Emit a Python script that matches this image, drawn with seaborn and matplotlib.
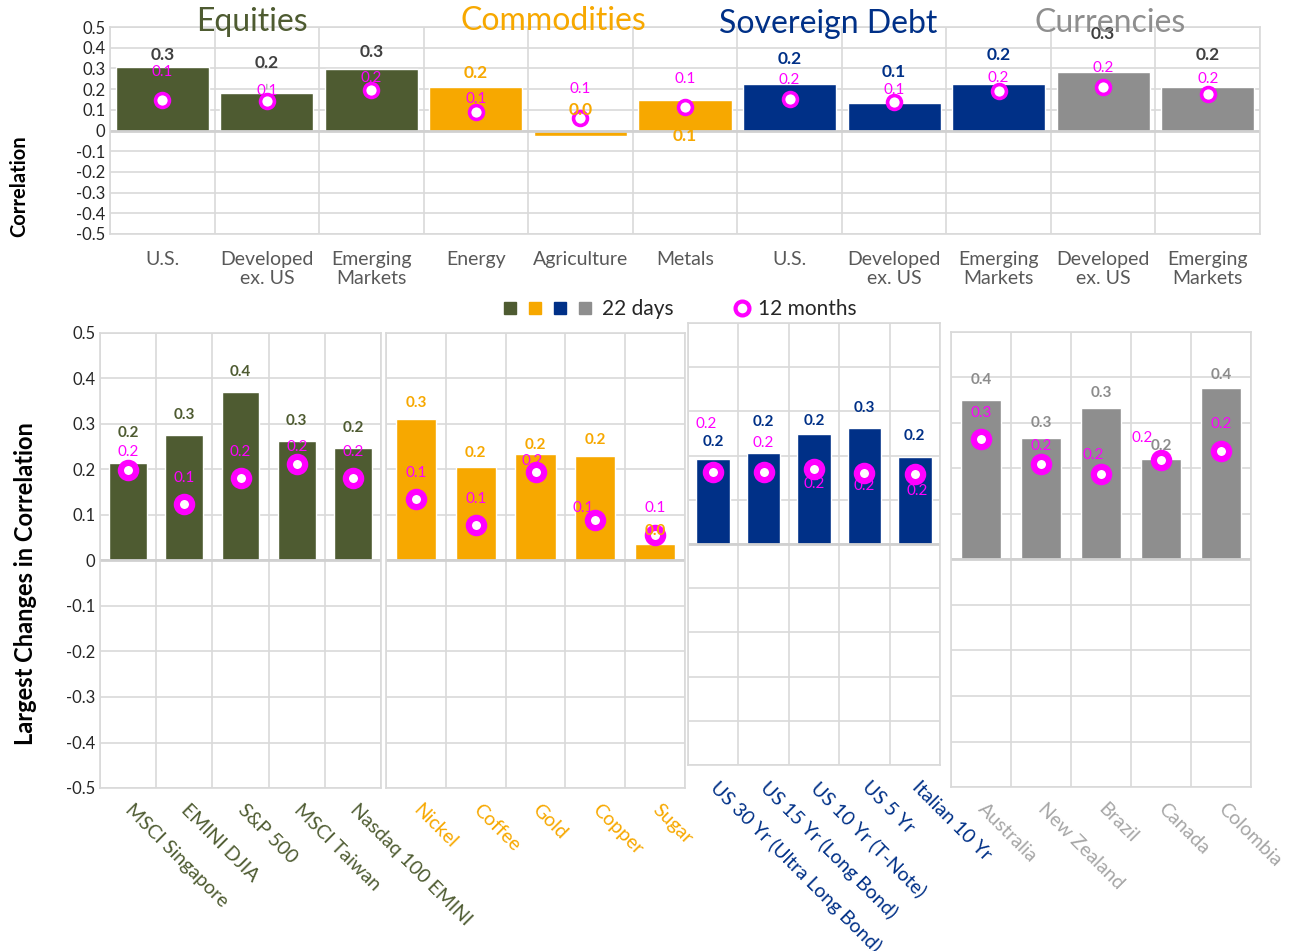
import numpy as np
import pandas as pd
import matplotlib.pyplot as plt
import seaborn as sns
from matplotlib.lines import Line2D
from matplotlib.legend_handler import HandlerTuple

# colours
OLIVE = '#4E5B31'
ORANGE = '#F7A800'
NAVY = '#003087'
GREY = '#8E8E8E'
MAGENTA = '#FF00FF'
GRID = '#D9D9D9'

# top chart data
top_groups = ['Equities'] * 3 + ['Commodities'] * 3 + ['Sovereign Debt'] * 3 + ['Currencies'] * 2
top_labels = ['U.S.', 'Developed\nex. US', 'Emerging\nMarkets', 'Energy', 'Agriculture', 'Metals',
              'U.S.', 'Developed\nex. US', 'Emerging\nMarkets', 'Developed\nex. US', 'Emerging\nMarkets']
top_22d = [0.307, 0.180, 0.295, 0.209, -0.025, 0.146, 0.224, 0.132, 0.224, 0.282, 0.209]
top_12m = [0.146, 0.141, 0.198, 0.090, 0.061, 0.113, 0.153, 0.137, 0.190, 0.209, 0.175]

# bottom panels data
eq_names = ['MSCI Singapore', 'EMINI DJIA', 'S&P 500', 'MSCI Taiwan', 'Nasdaq 100 EMINI']
eq_22d = [0.214, 0.275, 0.371, 0.263, 0.248]
eq_12m = [0.199, 0.125, 0.182, 0.212, 0.182]

com_names = ['Nickel', 'Coffee', 'Gold', 'Copper', 'Sugar']
com_22d = [0.312, 0.205, 0.234, 0.229, 0.037]
com_12m = [0.135, 0.079, 0.194, 0.088, 0.057]

sov_names = ['US 30 Yr (Ultra Long Bond)', 'US 15 Yr (Long Bond)', 'US 10 Yr (T-Note)', 'US 5 Yr', 'Italian 10 Yr']
sov_22d = [0.192, 0.205, 0.248, 0.262, 0.197]
sov_12m = [0.162, 0.164, 0.170, 0.161, 0.158]

cur_names = ['Australia', 'New Zealand', 'Brazil', 'Canada', 'Colombia']
cur_22d = [0.351, 0.267, 0.334, 0.221, 0.376]
cur_12m = [0.265, 0.210, 0.187, 0.218, 0.238]

group_colors = {'Equities': OLIVE, 'Commodities': ORANGE, 'Sovereign Debt': NAVY, 'Currencies': GREY}
top_label_colors = {'Equities': '#404040', 'Commodities': ORANGE, 'Sovereign Debt': NAVY, 'Currencies': '#404040'}

# label offsets in pixels (dx, dy) - mimic the Excel label placement
top_bar_off = [(0, 12), (0, 30), (0, 17), (0, 14), (0, 26), (0, -36), (0, 25), (0, 31), (0, 29), (0, 38), (0, 32)]
top_mk_off = [(0, 28), (0, 10), (0, 12), (0, 13), (0, 29), (0, 28), (0, 19), (0, 12), (0, 13), (0, 19), (0, 15)]
eq_bar_off = [(0, 30), (0, 20), (0, 20), (0, 20), (0, 20)]
eq_mk_off = [(0, 18), (0, 26), (0, 26), (0, 17), (0, 26)]
com_bar_off = [(0, 16), (0, 14), (0, 9), (0, 16), (0, 13)]
com_mk_off = [(0, 26), (0, 26), (-3, 11), (-12, 12), (0, 27)]
sov_bar_off = [(0, 17), (0, 31), (0, 13), (0, 20), (0, 21)]
sov_mk_off = [(-7, 48), (0, 29), (0, -15), (0, -13), (2, -17)]
cur_bar_off = [(0, 20), (0, 15), (0, 15), (0, 13), (0, 13)]
cur_mk_off = [(0, 26), (0, 18), (-8, 19), (-19, 22), (0, 27)]

sns.set_style('white')
plt.rcParams['font.family'] = ['Lato', 'DejaVu Sans']

yticks = np.round(np.arange(-0.5, 0.51, 0.1), 1)


def fmt(v):
    s = f'{v:.1f}'
    return '0.0' if s == '-0.0' else s


def style_axes(ax, n, show_y=True):
    ax.set_ylim(-0.5, 0.5)
    ax.set_xlim(-0.5, n - 0.5)
    ax.set_yticks(yticks)
    ax.set_xticks(np.arange(-0.5, n, 1.0), minor=True)
    ax.grid(axis='y', which='major', color=GRID, lw=1.2)
    ax.grid(axis='x', which='minor', color=GRID, lw=1.2)
    ax.grid(axis='x', which='major', visible=False)
    ax.axhline(0, color='#D0D0D0', lw=2, zorder=1)
    ax.set_axisbelow(True)
    for sp in ax.spines.values():
        sp.set_color(GRID)
        sp.set_linewidth(1.2)
    ax.tick_params(length=0, which='both')
    ax.set_xlabel('')
    ax.set_ylabel('')
    if show_y:
        ax.set_yticklabels(['0' if t == 0 else f'{t:g}' for t in yticks], color='#262626', fontsize=12)
    else:
        ax.set_yticklabels([])


def add_labels(ax, v22, v12, bar_off, mk_off, bar_color, size_bar, size_mk):
    for i, (b, m) in enumerate(zip(v22, v12)):
        ax.annotate(fmt(b), (i, b), xytext=bar_off[i], textcoords='offset pixels',
                    ha='center', va='center', fontsize=size_bar, fontweight='bold',
                    color=bar_color, zorder=6)
        ax.annotate(fmt(m), (i, m), xytext=mk_off[i], textcoords='offset pixels',
                    ha='center', va='center', fontsize=size_mk, color=MAGENTA, zorder=6)


W, H = 1290, 951
fig = plt.figure(figsize=(12.9, 9.51), dpi=100)

# ---------------- top chart ----------------
ax_top = fig.add_axes([110 / W, 1 - 234 / H, 1150 / W, 207 / H])
top_df = pd.DataFrame({'key': [g + ' ' + l for g, l in zip(top_groups, top_labels)],
                       'group': top_groups, 'd22': top_22d, 'm12': top_12m})
sns.barplot(data=top_df, x='key', y='d22', hue='group', palette=group_colors, dodge=False,
            width=0.89, saturation=1, legend=False, ax=ax_top)
sns.stripplot(data=top_df, x='key', y='m12', jitter=False, color='white', edgecolor=MAGENTA,
              linewidth=2.6, size=10, zorder=5, ax=ax_top)
style_axes(ax_top, len(top_labels))
ax_top.set_xticks(range(len(top_labels)))
ax_top.set_xticklabels(top_labels, color='#595959', fontsize=14, linespacing=1.15)
ax_top.tick_params(axis='x', pad=12)

for i, (b, m, g) in enumerate(zip(top_22d, top_12m, top_groups)):
    if i == 1:
        ax_top.annotate(fmt(b), (i, b), xytext=top_bar_off[i], textcoords='offset pixels',
                        ha='center', va='center', fontsize=12.5, fontweight='bold',
                        color=top_label_colors[g], zorder=6,
                        arrowprops=dict(arrowstyle='-', color='#A0A0A0', lw=0.8,
                                        shrinkA=7, shrinkB=3))
    else:
        ax_top.annotate(fmt(b), (i, b), xytext=top_bar_off[i], textcoords='offset pixels',
                        ha='center', va='center', fontsize=12.5, fontweight='bold',
                        color=top_label_colors[g], zorder=6)
    ax_top.annotate(fmt(m), (i, m), xytext=top_mk_off[i], textcoords='offset pixels',
                    ha='center', va='center', fontsize=11, color=MAGENTA, zorder=6)

fig.text(19 / W, 1 - 186 / H, 'Correlation', rotation=90, ha='center', va='center',
         fontsize=14.5, fontweight='bold', color='black')

titles = [('Equities', 252, 22, OLIVE), ('Commodities', 553, 21, ORANGE),
          ('Sovereign Debt', 828, 24, NAVY), ('Currencies', 1110, 23, GREY)]
for t, x, y, c in titles:
    fig.text(x / W, 1 - y / H, t, ha='center', va='center', fontsize=23, color=c, zorder=0)

# ---------------- bottom panels ----------------
panels = [
    ([100, 333, 281, 455], eq_names, eq_22d, eq_12m, OLIVE, OLIVE, OLIVE, eq_bar_off, eq_mk_off, True),
    ([386, 333, 299, 455], com_names, com_22d, com_12m, ORANGE, ORANGE, ORANGE, com_bar_off, com_mk_off, False),
    ([688, 323, 252, 442], sov_names, sov_22d, sov_12m, NAVY, NAVY, NAVY, sov_bar_off, sov_mk_off, False),
    ([951, 332, 300, 455], cur_names, cur_22d, cur_12m, GREY, '#8C8C8C', '#A6A6A6', cur_bar_off, cur_mk_off, False),
]

for box, names, v22, v12, col, lab_col, tick_col, boff, moff, show_y in panels:
    x0, ytop, w, h = box
    ax = fig.add_axes([x0 / W, 1 - (ytop + h) / H, w / W, h / H])
    df = pd.DataFrame({'name': names, 'd22': v22, 'm12': v12})
    sns.barplot(data=df, x='name', y='d22', color=col, width=0.67, saturation=1, ax=ax)
    sns.stripplot(data=df, x='name', y='m12', jitter=False, color='white', edgecolor=MAGENTA,
                  linewidth=4.5, size=11, zorder=5, ax=ax)
    style_axes(ax, len(names), show_y)
    ax.set_xticks(range(len(names)))
    ax.set_xticklabels(names, rotation=-45, ha='left', va='center', rotation_mode='anchor',
                       color=tick_col, fontsize=14)
    ax.tick_params(axis='x', pad=14)
    add_labels(ax, v22, v12, boff, moff, lab_col, 11, 11)

fig.text(26 / W, 1 - 584 / H, 'Largest Changes in Correlation', rotation=90, ha='center',
         va='center', fontsize=17, fontweight='bold', color='black')

# legend: two separate pieces to control spacing
sq = [Line2D([], [], marker='s', ls='', color=c, markersize=9) for c in (OLIVE, ORANGE, NAVY, GREY)]
ring = Line2D([], [], marker='o', ls='', markerfacecolor='white', markeredgecolor=MAGENTA,
              markeredgewidth=3, markersize=10)
fig.legend([tuple(sq)], ['22 days'], loc='center', bbox_to_anchor=(589 / W, 1 - 309 / H),
           frameon=False, fontsize=15, handletextpad=0.5,
           handler_map={tuple: HandlerTuple(ndivide=None, pad=0.6)}, handlelength=4.2)
fig.legend([ring], ['12 months'], loc='center', bbox_to_anchor=(794 / W, 1 - 309 / H),
           frameon=False, fontsize=15, handletextpad=0.3, handlelength=1.0)

fig.savefig('out.png', dpi=100)
